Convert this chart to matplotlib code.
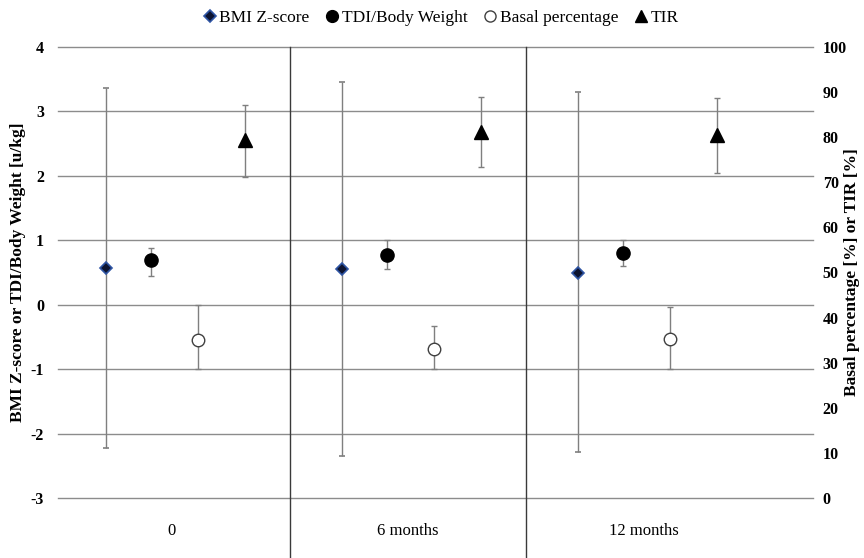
import numpy as np
import matplotlib.pyplot as plt
from matplotlib.lines import Line2D
from matplotlib.transforms import blended_transform_factory

plt.rcParams['font.family'] = ['Liberation Serif', 'DejaVu Serif']
plt.rcParams['axes.unicode_minus'] = False

categories = ["0", "6 months", "12 months"]

# left axis series (value, lower end, upper end of error bar)
bmi = [0.57, 0.55, 0.50]
bmi_lo = [-2.22, -2.35, -2.28]
bmi_hi = [3.37, 3.45, 3.30]

tdi = [0.69, 0.77, 0.80]
tdi_lo = [0.45, 0.56, 0.60]
tdi_hi = [0.88, 1.00, 1.00]

# right axis series (%)
basal = [35.0, 33.1, 35.3]
basal_lo = [28.5, 28.5, 28.6]
basal_hi = [42.8, 38.1, 42.4]

tir = [79.3, 81.1, 80.4]
tir_lo = [71.1, 73.3, 72.0]
tir_hi = [87.1, 89.0, 88.6]

x = np.arange(len(categories))
err_kw = dict(ecolor='#7f7f7f', elinewidth=1.0, capsize=2.5, capthick=1.0, linestyle='none')

fig = plt.figure(figsize=(8.64, 5.58), dpi=100)
ax = fig.add_axes([58/864, 1-498/558, 755/864, 451/558])
ax2 = ax.twinx()

def yerr(v, lo, hi):
    v = np.array(v)
    return [v - np.array(lo), np.array(hi) - v]

bmi_style = dict(marker='D', markersize=6, markerfacecolor='#0d1430',
                 markeredgecolor='#2f55a4', markeredgewidth=1.2)
tdi_style = dict(marker='o', markersize=9.5, color='black')
basal_style = dict(marker='o', markersize=9, markerfacecolor='white',
                   markeredgecolor='#404040', markeredgewidth=1.0)
tir_style = dict(marker='^', markersize=10, color='black')

ax.errorbar(x - 0.28, bmi, yerr=yerr(bmi, bmi_lo, bmi_hi), zorder=3, **bmi_style, **err_kw)
ax.errorbar(x - 0.09, tdi, yerr=yerr(tdi, tdi_lo, tdi_hi), zorder=3, **tdi_style, **err_kw)
ax2.errorbar(x + 0.11, basal, yerr=yerr(basal, basal_lo, basal_hi), zorder=3, **basal_style, **err_kw)
ax2.errorbar(x + 0.31, tir, yerr=yerr(tir, tir_lo, tir_hi), zorder=3, **tir_style, **err_kw)

ax.set_xlim(-0.483, 2.716)
ax.set_ylim(-3, 4)
ax.set_yticks(range(-3, 5))
ax2.set_ylim(0, 100)
ax2.set_yticks(range(0, 101, 10))

for yv in range(-3, 5):
    ax.axhline(yv, color='#8c8c8c', linewidth=1.0, clip_on=False, zorder=1)
for a in (ax, ax2):
    for s in a.spines.values():
        s.set_visible(False)
    a.tick_params(length=0)

ax.set_xticks(x)
ax.set_xticklabels(categories, fontsize=12)
ax.tick_params(axis='x', pad=18)
for lab in ax.get_yticklabels() + ax2.get_yticklabels():
    lab.set_fontweight('bold')
    lab.set_fontsize(11.5)
ax.tick_params(axis='y', pad=10)
ax2.tick_params(axis='y', pad=7)

# category separators extend below the axis
tr = blended_transform_factory(ax.transData, ax.transAxes)
for b in [0.5, 1.5]:
    ax.plot([b, b], [1, -0.14], transform=tr, color='#3a3a3a', linewidth=1.0, clip_on=False, zorder=2)

ax.set_ylabel("BMI Z-score or TDI/Body Weight [u/kg]", fontsize=12.5, fontweight='bold')
ax.yaxis.set_label_coords(-32/755, 0.5)
ax2.set_ylabel("Basal percentage [%] or TIR [%]", fontsize=12.5, fontweight='bold')
ax2.yaxis.set_label_coords(1 + 31/755, 0.5)

handles = [Line2D([], [], linestyle='none', **bmi_style),
           Line2D([], [], linestyle='none', **dict(tdi_style, markersize=8.5)),
           Line2D([], [], linestyle='none', **dict(basal_style, markersize=8)),
           Line2D([], [], linestyle='none', **dict(tir_style, markersize=9))]
fig.legend(handles, ["BMI Z-score", "TDI/Body Weight", "Basal percentage", "TIR"],
           loc='upper center', bbox_to_anchor=(0.509, 1.01), ncol=4, frameon=False, fontsize=12.5,
           handletextpad=0.05, columnspacing=0.8, handlelength=1.0)

fig.savefig("out.png", dpi=100)
